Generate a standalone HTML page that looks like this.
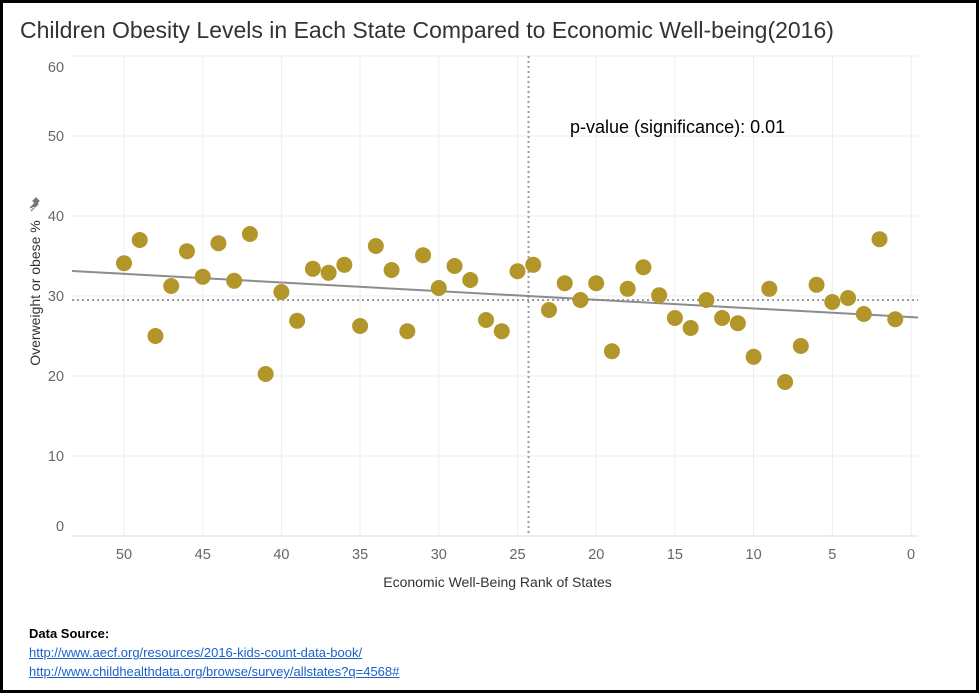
<!DOCTYPE html>
<html><head><meta charset="utf-8"><style>
body{margin:0;background:#fff;}
#wrap{position:relative;width:979px;height:693px;box-sizing:border-box;border:3px solid #000;overflow:hidden;font-family:"Liberation Sans",sans-serif;}
#title{position:absolute;left:17px;top:14px;font-size:23px;color:#333;white-space:nowrap;}
#src{position:absolute;left:26px;top:621px;font-size:13px;line-height:19px;}
#src b{color:#000}
#src a{color:#1a62c9;text-decoration:underline}
</style></head><body>
<div id="wrap">
<div id="title">Children Obesity Levels in Each State Compared to Economic Well-being(2016)</div>
<svg id="svg" width="973" height="687" style="position:absolute;left:0;top:0"></svg>
<div id="src"><b>Data Source:</b><br>
<a href="#">http://www.aecf.org/resources/2016-kids-count-data-book/</a><br>
<a href="#">http://www.childhealthdata.org/browse/survey/allstates?q=4568#</a></div>
</div>
<script>
const ranks=[50,49,48,47,46,45,44,43,42,41,40,39,38,37,36,35,34,33,32,31,30,29,28,27,26,25,24,23,22,21,20,19,18,17,16,15,14,13,12,11,10,9,8,7,6,5,4,3,2,1];
const obesity=[34.1,37.0,25.0,31.25,35.6,32.4,36.6,31.9,37.75,20.25,30.5,26.9,33.4,32.9,33.9,26.25,36.25,33.25,25.6,35.1,31.0,33.75,32.0,27.0,25.6,33.1,33.9,28.25,31.6,29.5,31.6,23.1,30.9,33.6,30.1,27.25,26.0,29.5,27.25,26.6,22.4,30.9,19.25,23.75,31.4,29.25,29.75,27.75,37.1,27.1];
const xTicks=[50,45,40,35,30,25,20,15,10,5,0];
const yTicks=[0,10,20,30,40,50,60];
const refX=24.3;
const refY=29.5;
const pValue="0.01";
const NS="http://www.w3.org/2000/svg";
const svg=document.getElementById('svg');
const X=v=>124-3+(50-v)*15.74;
const Y=v=>536-3-v*8;
const xMin=53.3,xMax=-0.45;
function mk(t,a,p){const e=document.createElementNS(NS,t);for(const k in a)e.setAttribute(k,a[k]);(p||svg).appendChild(e);return e;}
yTicks.forEach(t=>{
 const l=mk('line',{x1:X(xMin),x2:X(xMax),y1:Y(t),y2:Y(t),stroke:'#eeeeee','stroke-width':1});
 
 
 const tx=mk('text',{x:X(xMin)-8,y:Y(t)+(t===0?-5:t===60?16:5),'text-anchor':'end','font-size':14.5,fill:'#666','font-family':'Liberation Sans, sans-serif'});
 tx.textContent=t;
 
 
});
xTicks.forEach(t=>{
 const l=mk('line',{x1:X(t),x2:X(t),y1:Y(60),y2:Y(0),stroke:'#eeeeee','stroke-width':1});
 
 
 const tx=mk('text',{x:X(t),y:Y(0)+23,'text-anchor':'middle','font-size':14.5,fill:'#666','font-family':'Liberation Sans, sans-serif'});
 tx.textContent=t;
 
 
});
const ax=mk('line',{x1:X(xMin),x2:X(xMax),y1:Y(0),y2:Y(0),stroke:'#ddd'});


const ml=mk('line',{x1:X(xMin),x2:X(xMax),y1:Y(refY),y2:Y(refY),stroke:'#999','stroke-width':2,'stroke-dasharray':'2,3'});


const vl=mk('line',{x1:X(refX),x2:X(refX),y1:Y(60),y2:Y(0),stroke:'#999','stroke-width':2,'stroke-dasharray':'2,3'});


const n=ranks.length,mx=ranks.reduce((a,b)=>a+b,0)/n,my=obesity.reduce((a,b)=>a+b,0)/n;
let sxy=0,sxx=0;ranks.forEach((r,i)=>{sxy+=(r-mx)*(obesity[i]-my);sxx+=(r-mx)*(r-mx);});
const b=sxy/sxx,a=my-b*mx;
const tl=mk('line',{x1:X(xMin),x2:X(xMax),y1:Y(a+b*xMin),y2:Y(a+b*xMax),stroke:'#8c8c8c','stroke-width':2});


ranks.forEach((r,i)=>{
 const c=mk('circle',{cx:X(r),cy:Y(obesity[i]),r:8,fill:'#b3962a'});
 
 
});
const pv=mk('text',{x:567,y:130,'font-size':18,fill:'#000','font-family':'Liberation Sans, sans-serif'});
pv.textContent='p-value (significance): '+pValue;


const xt=mk('text',{x:X(25)-20,y:584,'text-anchor':'middle','font-size':14,fill:'#333','font-family':'Liberation Sans, sans-serif'});
xt.textContent='Economic Well-Being Rank of States';


const yt=mk('text',{x:0,y:0,transform:'translate(37,290) rotate(-90)','text-anchor':'middle','font-size':14,fill:'#333','font-family':'Liberation Sans, sans-serif'});
yt.textContent='Overweight or obese %';


const pin=mk('path',{d:'M27 205 l5 -5 l-2 -2 l3 -3 l3 3 l-2 2 l1 1 l-3 3 l-1 -1 z M28 208 l3 -3',fill:'#777',stroke:'#777','stroke-width':1.2});


</script>
</body></html>
